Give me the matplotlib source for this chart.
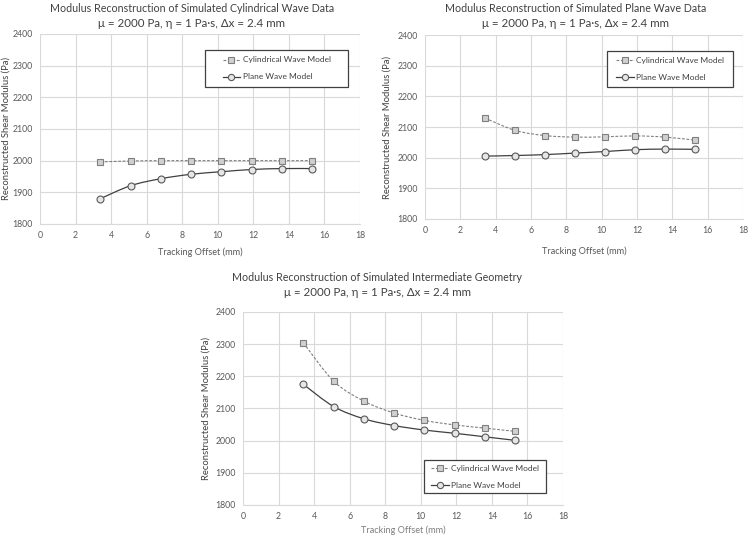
import matplotlib

matplotlib.use("Agg")
import numpy as np
from matplotlib import pyplot as plt
from matplotlib.lines import Line2D
from matplotlib.patches import PathPatch, Rectangle
from matplotlib.path import Path

plt.rcParams["font.family"] = ["Lato", "DejaVu Sans"]

# Tracking offsets (mm)
offset = [3.4, 5.1, 6.8, 8.5, 10.2, 11.9, 13.6, 15.3]

# Cylindrical wave data
cyl_cyl = [1996, 1999, 2000, 2000, 2000, 2000, 2000, 2000]
cyl_plane = [1880, 1921, 1943, 1957, 1965, 1972, 1975, 1975]

# Plane wave data
pln_cyl = [2129, 2089, 2072, 2067, 2068, 2071, 2067, 2057]
pln_plane = [2005, 2007, 2010, 2015, 2020, 2026, 2028, 2027]

# Intermediate geometry
int_cyl = [2304, 2185, 2123, 2086, 2063, 2049, 2039, 2029]
int_plane = [2175, 2106, 2068, 2047, 2033, 2023, 2012, 2001]

subtitle = "\u03bc = 2000 Pa, \u03b7 = 1 Pa\u00b7s, \u0394x = 2.4 mm"
TXT = "#404040"
GRID = "#d9d9d9"


def smooth_path(x, y):
    """Excel-like smoothed line as cubic Bezier segments."""
    p = np.column_stack([x, y]).astype(float)
    ext = np.vstack([p[0], p, p[-1]])
    verts = [p[0]]
    codes = [Path.MOVETO]
    for i in range(len(p) - 1):
        c1 = ext[i + 1] + (ext[i + 2] - ext[i]) / 6.0
        c2 = ext[i + 2] - (ext[i + 3] - ext[i + 1]) / 6.0
        verts += [c1, c2, p[i + 1]]
        codes += [Path.CURVE4] * 3
    return Path(verts, codes)


def panel(fig, rect, cyl, plane, title, title_x, title_y, legend_box,
          xlabel_y, ylabel_x, xlabel_color):
    ax = fig.add_axes(rect)
    ax.set_xlim(0, 18)
    ax.set_ylim(1800, 2400)
    ax.set_xticks(np.arange(0, 19, 2))
    ax.set_yticks(np.arange(1800, 2401, 100))
    ax.grid(True, color=GRID, linewidth=0.8)
    ax.set_axisbelow(True)
    for s in ["top", "right", "left"]:
        ax.spines[s].set_visible(False)
    ax.spines["bottom"].set_color(GRID)
    ax.tick_params(axis="x", length=0, labelsize=6.3, labelcolor="#595959", pad=5)
    ax.tick_params(axis="y", length=0, labelsize=6.3, labelcolor="#595959", pad=5)

    cyl_line = dict(color="#7f7f7f", linewidth=0.8, linestyle=(0, (2.5, 1.5)))
    plane_line = dict(color="#404040", linewidth=0.9, linestyle="-")
    ax.add_patch(PathPatch(smooth_path(offset, cyl), fill=False, **cyl_line))
    ax.add_patch(PathPatch(smooth_path(offset, plane), fill=False, **plane_line))
    ax.plot(offset, cyl, linestyle="none", marker="s", markersize=5,
            markerfacecolor="#d0d0d0", markeredgecolor="#7f7f7f", markeredgewidth=0.8)
    ax.plot(offset, plane, linestyle="none", marker="o", markersize=5,
            markerfacecolor="#e6e6e6", markeredgecolor="#595959", markeredgewidth=0.8)

    ax.set_xlabel("Tracking Offset (mm)", fontsize=6.6, color=xlabel_color)
    ax.xaxis.set_label_coords(0.5, xlabel_y)
    ax.set_ylabel("Reconstructed Shear Modulus (Pa)", fontsize=6.8, color=TXT)
    ax.yaxis.set_label_coords(ylabel_x, 0.5)

    fig.text(title_x, title_y, title, ha="center", va="center", fontsize=7.7, color=TXT)
    fig.text(title_x, title_y - 0.028, subtitle, ha="center", va="center",
             fontsize=8.3, color=TXT)

    # legend frame drawn separately so the box matches the reference
    x0, y0, w, h = legend_box
    ax.add_patch(Rectangle((x0, y0), w, h, transform=ax.transAxes, fill=True,
                           facecolor="white", edgecolor="#404040", linewidth=0.9,
                           zorder=4))
    handles = [
        Line2D([], [], marker="s", markersize=4.5, markerfacecolor="#d0d0d0",
               markeredgecolor="#7f7f7f", markeredgewidth=0.8, **cyl_line),
        Line2D([], [], marker="o", markersize=4.5, markerfacecolor="#e6e6e6",
               markeredgecolor="#595959", markeredgewidth=0.8, **plane_line),
    ]
    leg = ax.legend(handles, ["Cylindrical Wave Model", "Plane Wave Model"],
                    loc="center", bbox_to_anchor=(x0 + w / 2, y0 + h / 2),
                    fontsize=6.0, frameon=False, handlelength=2.1,
                    handletextpad=0.3, labelspacing=1.2)
    leg.set_zorder(5)
    for t in leg.get_texts():
        t.set_color(TXT)
    return ax


fig = plt.figure(figsize=(7.5, 5.37), dpi=100)

panel(fig, [0.0533, 0.5829, 0.4267, 0.3538], cyl_cyl, cyl_plane,
      "Modulus Reconstruction of Simulated Cylindrical Wave Data",
      0.256, 0.985, (0.516, 0.721, 0.447, 0.195), -0.126, -0.093, "#595959")
panel(fig, [0.5667, 0.5922, 0.424, 0.3426], pln_cyl, pln_plane,
      "Modulus Reconstruction of Simulated Plane Wave Data",
      0.767, 0.985, (0.572, 0.717, 0.397, 0.196), -0.150, -0.105, "#595959")
panel(fig, [0.324, 0.0596, 0.4267, 0.3594], int_cyl, int_plane,
      "Modulus Reconstruction of Simulated Intermediate Geometry",
      0.503, 0.483, (0.566, 0.062, 0.381, 0.171), -0.104, -0.100, "#7f7f7f")

fig.savefig("out.png", dpi=100)
